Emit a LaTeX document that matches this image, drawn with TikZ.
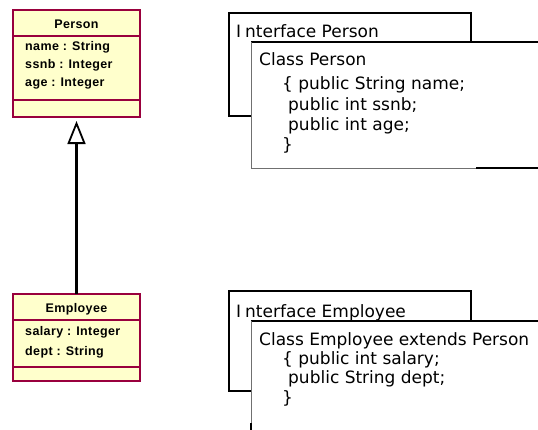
\documentclass[tikz,border=0pt]{standalone}
\usepackage{fontspec}
\setmainfont{DejaVu Sans}
\newfontfamily\umlfont[LetterSpace=3]{Liberation Sans}
\usetikzlibrary{arrows.meta}
\definecolor{umlfill}{HTML}{FFFFCC}
\definecolor{umlline}{HTML}{99003D}
\definecolor{edgegray}{HTML}{707070}

\begin{document}
\begin{tikzpicture}[x=1pt,y=-1pt,
  umlbox/.style={draw=umlline, fill=umlfill, line width=2pt, inner sep=0pt,
    outer sep=0pt, minimum width=127pt},
  umlrule/.style={draw=umlline, line width=2pt},
  umlhead/.style={font=\umlfont\fontsize{12.5}{14}\selectfont\bfseries, anchor=base, inner sep=0pt},
  umlattr/.style={font=\umlfont\fontsize{12.5}{14}\selectfont\bfseries, anchor=base west, inner sep=0pt},
  frame/.style={draw=black, line width=1.6pt},
  code/.style={font=\fontsize{17}{20}\selectfont, anchor=base west, inner sep=0pt},
  thinedge/.style={draw=edgegray, line width=0.9pt},
  boldedge/.style={draw=black, line width=1.6pt},
  inherit/.style={line width=3pt, shorten >=4pt,
    -{Triangle[open, length=23pt, width=18pt, line width=1.8pt]}}
]
\useasboundingbox (0,0) rectangle (538,429);
\clip (0,0) rectangle (538,429);

% UML class Person
\node[umlbox, minimum height=107pt] (person) at (76.5,63.5) {};
\draw[umlrule] (13,36) -- (140,36);
\draw[umlrule] (13,100) -- (140,100);
\node[umlhead] (pname) at (76.5,28) {Person};
\node[umlattr] (pa1) at (25,50) {name : String};
\node[umlattr] (pa2) at (25,68.5) {ssnb : Integer};
\node[umlattr] (pa3) at (25,86.5) {age : Integer};

% UML class Employee
\node[umlbox, minimum height=87pt] (employee) at (76.5,337.5) {};
\draw[umlrule] (13,320) -- (140,320);
\draw[umlrule] (13,367) -- (140,367);
\node[umlhead] (ename) at (76.5,312.5) {Employee};
\node[umlattr] (ea1) at (25,335.5) {salary : Integer};
\node[umlattr] (ea2) at (25,355) {dept : String};

% generalisation
\draw[inherit] (employee.north) -- (person.south);

% Java view of Person
\draw[frame] (229,13) rectangle (471,116);
\fill[white] (251,42) rectangle (545,168);
\draw[boldedge] (251,42) -- (545,42);
\draw[thinedge] (251,42) -- (251,168) -- (476,168);
\draw[boldedge] (476,168) -- (545,168);
\node[code] (ip) at (236,37) {I\kern4pt nterface Person};
\node[code] (cp0) at (259,65.5) {Class Person};
\node[code] (cp1) at (282,89.5) {\{ public String name;};
\node[code] (cp2) at (288,110) {public int ssnb;};
\node[code] (cp3) at (288,130) {public int age;};
\node[code] (cp4) at (282,150) {\}};

% Java view of Employee
\draw[frame] (229,291) rectangle (471,391);
\fill[white] (251,321) rectangle (545,440);
\draw[boldedge] (251,321) -- (545,321);
\draw[thinedge] (251,321) -- (251,423);
\draw[boldedge] (251,423) -- (251,440);
\node[code] (ie) at (236,317) {I\kern4pt nterface Employee};
\node[code] (ce0) at (259,345) {Class Employee extends Person};
\node[code] (ce1) at (282,364.5) {\{ public int salary;};
\node[code] (ce2) at (288,383.5) {public String dept;};
\node[code] (ce3) at (282,403) {\}};
\end{tikzpicture}
\end{document}
